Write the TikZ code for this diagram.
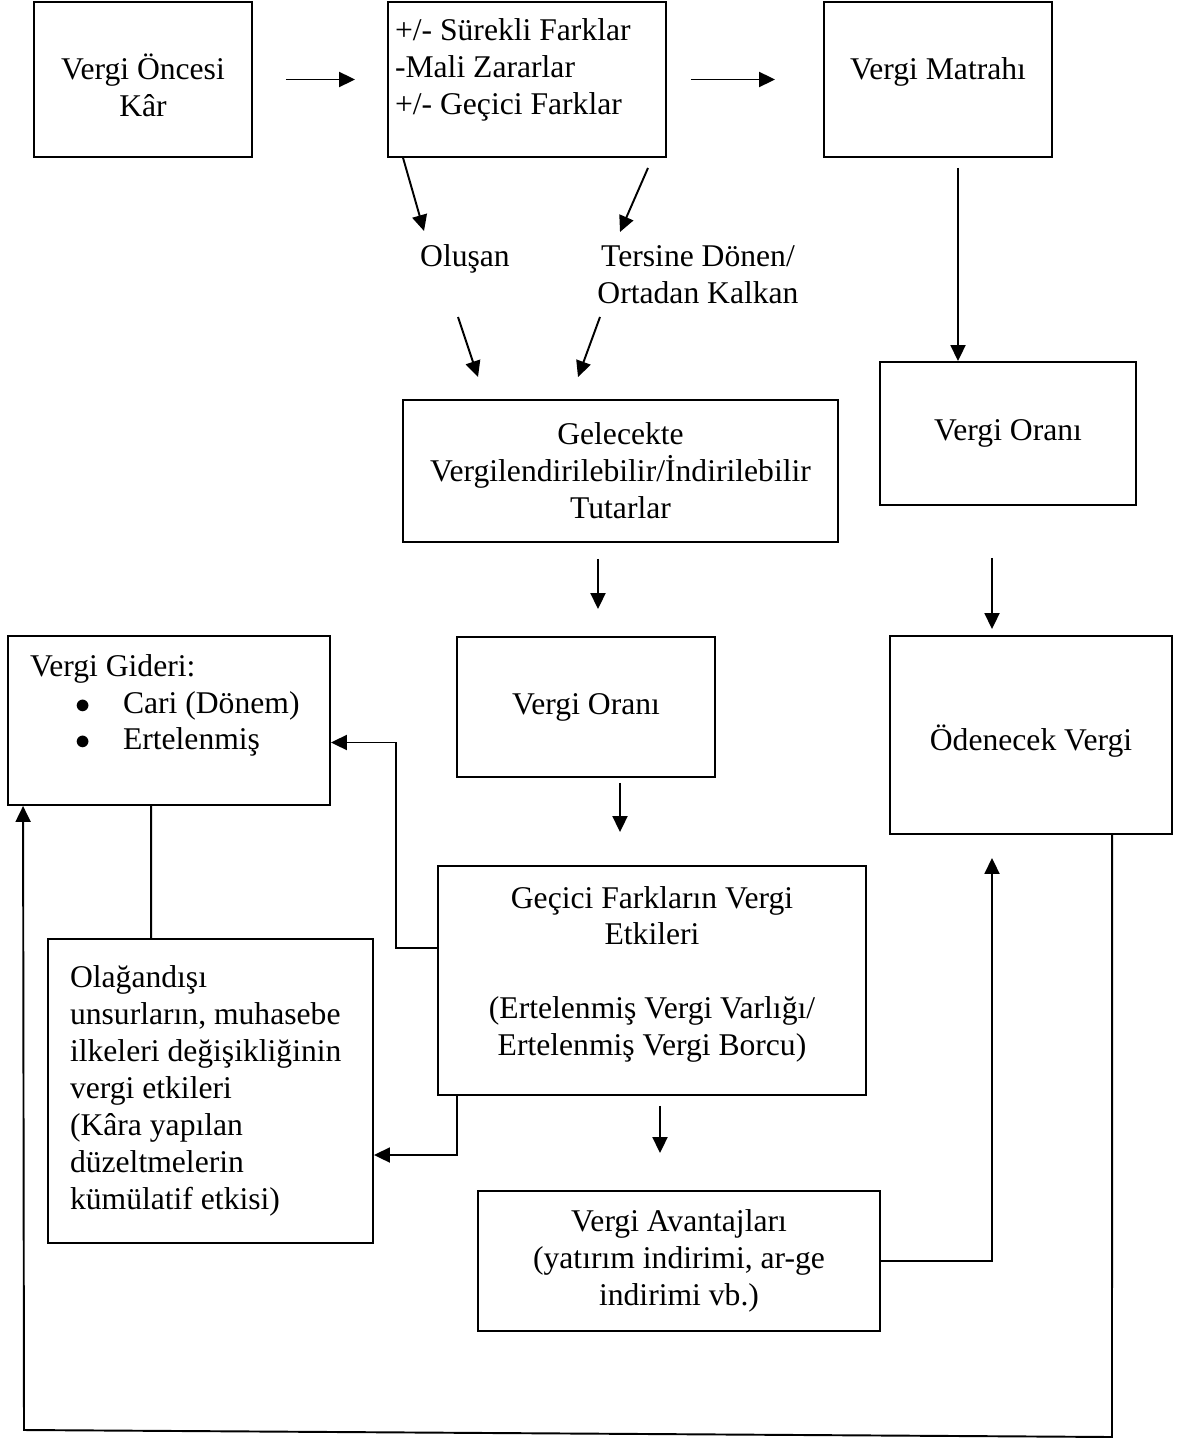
\documentclass[tikz,border=0pt]{standalone}
\usepackage{fontspec}
\setmainfont{Liberation Serif}
\usetikzlibrary{arrows.meta,calc}

\begin{document}
\begin{tikzpicture}[x=0.02cm,y=-0.02cm,line width=1.1pt,
    font=\fontsize{18}{21}\selectfont,
    box/.style={draw,rectangle,inner sep=0pt,align=center},
    arr/.style={-{Triangle[length=0.32cm,width=0.3cm]}}]
  \useasboundingbox (0,0) rectangle (1183,1439);
  \node[box,minimum width=4.36cm,minimum height=3.1cm] (oncesi) at (143,79.5) {\mbox{}\\[0pt]Vergi Öncesi\\Kâr};
  \node[box,align=flush left,text width=5.28cm,inner xsep=0.14cm,minimum height=3.1cm] (farklar) at (527,79.5) {+/- Sürekli Farklar\\-Mali Zararlar\\+/- Geçici Farklar\\[-6pt]\mbox{}};
  \node[box,minimum width=4.56cm,minimum height=3.1cm] (matrah) at (938,79.5) {Vergi Matrahı\\[-8pt]\mbox{}};
  \node (olusan) at (465,259) {Oluşan};
  \node[align=center] (tersine) at (698,275) {Tersine Dönen/\\Ortadan Kalkan};
  \node[box,minimum width=5.12cm,minimum height=2.86cm] (oran1) at (1008,433.5) {Vergi Oranı};
  \node[box,minimum width=8.7cm,minimum height=2.84cm] (gelecek) at (620.5,471) {Gelecekte\\Vergilendirilebilir/İndirilebilir\\Tutarlar};
  \node[box,minimum width=5.16cm,minimum height=2.8cm] (oran2) at (586,707) {Vergi Oranı};
  \node[box,minimum width=5.64cm,minimum height=3.96cm] (odenecek) at (1031,735) {\mbox{}\\[0pt]Ödenecek Vergi};
  \node[box,align=flush left,text width=5.56cm,inner xsep=0.44cm,minimum height=3.38cm] (gider) at (169,720.5) {Vergi Gideri:\\ \hspace*{0.9cm}\makebox[0.96cm][l]{$\bullet$}Cari (Dönem)\\ \hspace*{0.9cm}\makebox[0.96cm][l]{$\bullet$}Ertelenmiş\\\mbox{}};
  \node[box,minimum width=8.56cm,minimum height=4.58cm] (gecici) at (652,980.5) {Geçici Farkların Vergi\\Etkileri\\\mbox{}\\(Ertelenmiş Vergi Varlığı/\\Ertelenmiş Vergi Borcu)\\[-10pt]\mbox{}};
  \node[box,align=flush left,text width=5.62cm,inner xsep=0.44cm,minimum height=6.08cm] (olagan) at (210.5,1091) {Olağandışı\\unsurların, muhasebe\\ilkeleri değişikliğinin\\vergi etkileri\\(Kâra yapılan\\düzeltmelerin\\kümülatif etkisi)};
  \node[box,minimum width=8.04cm,minimum height=2.8cm] (avantaj) at (679,1261) {Vergi Avantajları\\(yatırım indirimi, ar-ge\\indirimi vb.)};
  \coordinate (altsag) at (1112,1437);
  \coordinate (altsol) at (24,1430);
  % top row and the two branches
  \draw[arr] ($(oncesi.east)+(33,0)$) -- ($(farklar.west)+(-32,0)$);
  \draw[arr] ($(farklar.east)+(24,0)$) -- ($(matrah.west)+(-48,0)$);
  \draw[arr] ($(farklar.south west)+(16,0)$) -- ($(olusan)+(-41,-28)$);
  \draw[arr] ($(farklar.south)+(121,10)$) -- ($(tersine)+(-78,-43)$);
  \draw[arr] ($(olusan)+(-7,58)$) -- ($(gelecek.north)+(-142.5,-22)$);
  \draw[arr] ($(tersine)+(-98,42)$) -- ($(gelecek.north)+(-42.5,-22)$);
  % right column
  \draw[arr] ($(matrah.south)+(20,10)$) -- ($(oran1.north)+(-50,0)$);
  \draw[arr] ($(oran1.south)+(-16,52)$) -- ($(odenecek.north)+(-39,-6)$);
  % middle column
  \draw[arr] ($(gelecek.south)+(-22.5,16)$) -- ($(oran2.north)+(12,-27)$);
  \draw[arr] ($(oran2.south)+(34,5)$) -- ($(gecici.north)+(-32,-33)$);
  \draw[arr] ($(gecici.south)+(8,10)$) -- ($(avantaj.north)+(-19,-37)$);
  \draw[arr] (avantaj.east) -| ($(odenecek.south)+(-39,23)$);
  % left side
  \draw[arr] ($(gecici.north west)+(0,83)$) -- ++(-41,0) |- ($(gider.east)+(0,22)$);
  \draw[arr] ($(gecici.south west)+(20,0)$) |- ($(olagan.east)+(0,64)$);
  \draw ($(gider.south west)+(144,0)$) -- ($(olagan.north west)+(104,0)$);
  \draw[arr] ($(odenecek.south west)+(223,0)$) -- (altsag) -- (altsol) -- ($(gider.south west)+(16,0)$);
\end{tikzpicture}
\end{document}
